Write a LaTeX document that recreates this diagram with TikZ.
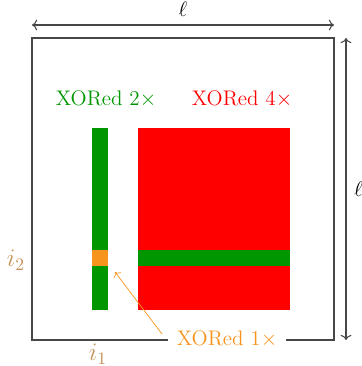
\documentclass[tikz,border=0pt]{standalone}
\usepackage{amsmath,amssymb}
\usepackage{xcolor}
\usepackage{tikz}
\usetikzlibrary{arrows.meta,positioning}

\definecolor{xgreen}{RGB}{0,150,0}
\definecolor{xred}{RGB}{255,0,0}
\definecolor{xorange}{RGB}{247,148,30}
\definecolor{xtan}{RGB}{196,146,88}

\begin{document}
\begin{tikzpicture}[
    x=0.2mm, y=-0.2mm,
    frame/.style={draw=black!72, line width=0.6pt},
    dim/.style={<->, draw=black!72, line width=0.6pt},
    cell/.style={inner sep=0pt, outer sep=0pt},
    lbl/.style={font=\large},
    idx/.style={font=\Large, text=xtan}
]
\useasboundingbox (0,0) rectangle (361,366);

% outer square
\coordinate (tl) at (32,38);
\coordinate (br) at (334,340);
\draw[frame] (tl) rectangle (br);

% side lengths
\coordinate (topl) at (32,25);
\coordinate (topr) at (334,25);
\coordinate (rgtt) at (346,38);
\coordinate (rgtb) at (346,340);
\draw[dim] (topl) -- node[above=1pt, font=\large] (ltop) {$\ell$} (topr);
\draw[dim] (rgtt) -- node[right=1pt, font=\large] (lrgt) {$\ell$} (rgtb);

% blocks
\node[cell, fill=xgreen, minimum width=3.2mm, minimum height=36.4mm] (col) at (100,219) {};
\node[cell, fill=xred, minimum width=30.4mm, minimum height=36.4mm] (sq) at (214,219) {};
\node[cell, fill=xgreen, minimum width=30.4mm, minimum height=3.2mm] (row) at (214,258) {};
\node[cell, fill=xorange, minimum width=3.2mm, minimum height=3.2mm] (hit) at (100,258) {};

% labels
\node[lbl, text=xgreen] (two) at (106,99) {XORed 2$\times$};
\node[lbl, text=xred] (four) at (242,99) {XORed 4$\times$};
\node[idx] (itwo) at (16,260) {$i_2$};
\node[idx] (ione) at (98,354) {$i_1$};
\node[lbl, text=xorange, fill=white, inner xsep=5pt] (one) at (227,339) {XORed 1$\times$};

\coordinate (tail) at (162,334);
\coordinate (tip) at (115,272);
\draw[->, xorange] (tail) -- (tip);
\end{tikzpicture}
\end{document}
